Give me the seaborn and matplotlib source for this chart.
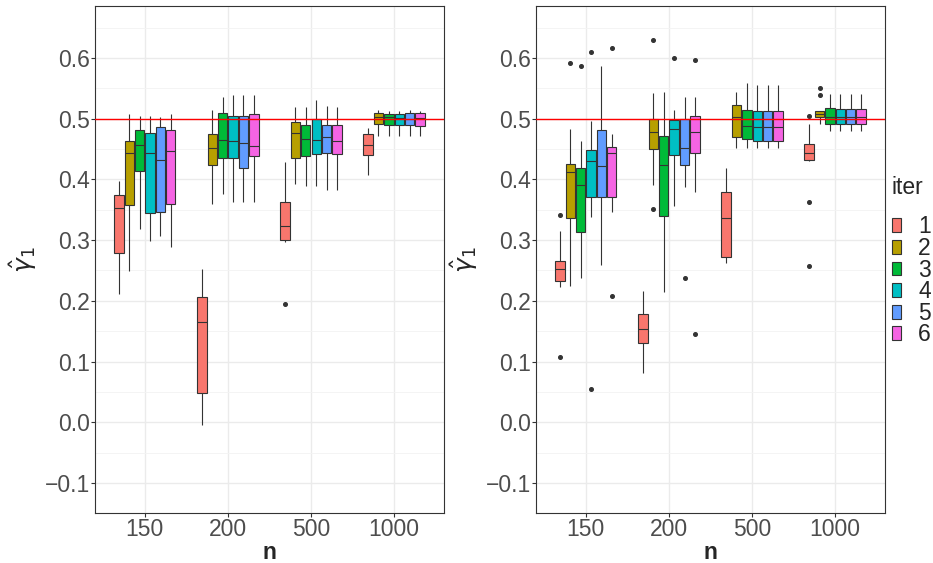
import matplotlib
matplotlib.use("Agg")
import matplotlib.pyplot as plt
import seaborn as sns
import pandas as pd
import numpy as np


# ---------------------------------------------------------
# data (box statistics)
# ---------------------------------------------------------

n_levels = ["150", "200", "500", "1000"]
iters = ["1", "2", "3", "4", "5", "6"]
colors = ["#F8766D", "#B79F00", "#00BA38", "#00BFC4", "#619CFF", "#F564E3"]

# left panel: one row per n, one value per iter
lo_left = [[0.212, 0.249, 0.318, 0.298, 0.307, 0.289],
           [-0.004, 0.360, 0.376, 0.363, 0.363, 0.363],
           [0.297, 0.392, 0.389, 0.389, 0.383, 0.383],
           [0.407, 0.471, 0.471, 0.472, 0.472, 0.472]]
q1_left = [[0.279, 0.358, 0.414, 0.345, 0.346, 0.360],
           [0.048, 0.423, 0.436, 0.435, 0.418, 0.438],
           [0.300, 0.436, 0.439, 0.442, 0.443, 0.442],
           [0.441, 0.491, 0.490, 0.489, 0.489, 0.488]]
med_left = [[0.353, 0.443, 0.457, 0.443, 0.432, 0.446],
            [0.165, 0.452, 0.465, 0.464, 0.460, 0.455],
            [0.323, 0.476, 0.467, 0.465, 0.470, 0.464],
            [0.457, 0.502, 0.502, 0.501, 0.499, 0.501]]
q3_left = [[0.375, 0.463, 0.481, 0.476, 0.487, 0.481],
           [0.207, 0.475, 0.510, 0.505, 0.505, 0.507],
           [0.362, 0.495, 0.490, 0.500, 0.489, 0.489],
           [0.475, 0.509, 0.508, 0.508, 0.509, 0.509]]
hi_left = [[0.397, 0.508, 0.505, 0.505, 0.502, 0.508],
           [0.253, 0.514, 0.536, 0.539, 0.539, 0.539],
           [0.428, 0.520, 0.520, 0.530, 0.521, 0.520],
           [0.484, 0.514, 0.513, 0.513, 0.515, 0.513]]
out_left = [("500", "1", 0.194)]

# right panel
lo_right = [[0.222, 0.224, 0.238, 0.338, 0.259, 0.346],
            [0.081, 0.390, 0.215, 0.357, 0.388, 0.380],
            [0.262, 0.451, 0.452, 0.452, 0.452, 0.452],
            [0.431, 0.491, 0.479, 0.479, 0.479, 0.479]]
q1_right = [[0.232, 0.336, 0.313, 0.371, 0.371, 0.371],
            [0.131, 0.450, 0.340, 0.440, 0.423, 0.444],
            [0.272, 0.470, 0.467, 0.464, 0.464, 0.464],
            [0.432, 0.502, 0.491, 0.491, 0.491, 0.491]]
med_right = [[0.253, 0.412, 0.391, 0.430, 0.422, 0.444],
             [0.154, 0.478, 0.424, 0.483, 0.452, 0.478],
             [0.336, 0.503, 0.488, 0.487, 0.487, 0.487],
             [0.444, 0.507, 0.503, 0.503, 0.503, 0.503]]
q3_right = [[0.266, 0.426, 0.418, 0.449, 0.482, 0.454],
            [0.179, 0.499, 0.472, 0.498, 0.500, 0.505],
            [0.380, 0.523, 0.515, 0.513, 0.513, 0.513],
            [0.459, 0.513, 0.518, 0.516, 0.516, 0.516]]
hi_right = [[0.315, 0.483, 0.464, 0.497, 0.587, 0.475],
            [0.216, 0.542, 0.544, 0.514, 0.536, 0.536],
            [0.418, 0.544, 0.558, 0.555, 0.555, 0.555],
            [0.491, 0.513, 0.540, 0.540, 0.540, 0.540]]
out_right = [("150", "1", 0.341), ("150", "1", 0.108),
             ("150", "2", 0.591), ("150", "3", 0.586),
             ("150", "4", 0.610), ("150", "4", 0.055),
             ("150", "6", 0.617), ("150", "6", 0.208),
             ("200", "2", 0.629), ("200", "2", 0.351),
             ("200", "4", 0.600), ("200", "5", 0.237),
             ("200", "6", 0.597), ("200", "6", 0.146),
             ("1000", "1", 0.505), ("1000", "1", 0.363), ("1000", "1", 0.257),
             ("1000", "2", 0.550), ("1000", "2", 0.539)]

true_value = 0.5


def build_frame(lo, q1, med, q3, hi, outliers):
    # each 5-number summary repeated so quartiles land exactly on it
    rows = []
    for i, n in enumerate(n_levels):
        for j, it in enumerate(iters):
            for v in [lo[i][j], q1[i][j], med[i][j], q3[i][j], hi[i][j]] * 10:
                rows.append((n, it, v))
    rows += list(outliers)
    return pd.DataFrame(rows, columns=["n", "iter", "gamma"])


df_left = build_frame(lo_left, q1_left, med_left, q3_left, hi_left, out_left)
df_right = build_frame(lo_right, q1_right, med_right, q3_right, hi_right, out_right)


# ---------------------------------------------------------
# plot
# ---------------------------------------------------------

sns.set_style("white")
plt.rcParams["font.family"] = ["Liberation Sans", "DejaVu Sans"]

fig = plt.figure(figsize=(9.33, 5.63), dpi=100)
ax1 = fig.add_axes([0.1018, 0.0883, 0.374, 0.901])
ax2 = fig.add_axes([0.5745, 0.0883, 0.374, 0.901])

for ax, df, show_legend in [(ax1, df_left, False), (ax2, df_right, True)]:
    sns.boxplot(data=df, x="n", y="gamma", hue="iter",
                order=n_levels, hue_order=iters, palette=colors, saturation=1,
                width=0.75, gap=0.1, linecolor="#333333", linewidth=0.8,
                showcaps=False,
                flierprops=dict(marker="o", markersize=2.6,
                                markerfacecolor="#333333",
                                markeredgecolor="#333333"),
                legend=show_legend, ax=ax, zorder=3)
    ax.axhline(true_value, color="#FF0000", linewidth=1.0, zorder=4)

    ax.set_xlim(-0.6, 3.6)
    ax.set_ylim(-0.1366, 0.6856)
    ax.set_yticks(np.arange(-0.1, 0.61, 0.1))
    ax.set_yticks(np.arange(-0.15, 0.70, 0.1), minor=True)
    ax.set_yticklabels(["\u22120.1", "0.0", "0.1", "0.2", "0.3", "0.4", "0.5", "0.6"])
    ax.grid(which="major", color="#EBEBEB", linewidth=1.0, zorder=0)
    ax.grid(which="minor", axis="y", color="#F3F3F3", linewidth=0.6, zorder=0)
    ax.set_axisbelow(True)

    for sp in ax.spines.values():
        sp.set_visible(True)
        sp.set_color("#333333")
        sp.set_linewidth(0.8)
    ax.tick_params(axis="both", which="major", length=3, width=0.8,
                   color="#333333", labelsize=16.5, labelcolor="#4D4D4D",
                   pad=0.5, left=True, bottom=True)
    ax.tick_params(which="minor", length=0)

    ax.set_xlabel("n", fontsize=16.5, fontweight="bold", labelpad=0)
    ax.set_ylabel(r"$\hat{\gamma}_1$", fontsize=18, labelpad=4)

# legend placed in figure coordinates, right of the second panel
handles, labels = ax2.get_legend_handles_labels()
ax2.get_legend().remove()
leg = fig.legend(handles, labels, loc="upper left", bbox_to_anchor=(0.956, 0.688),
                 frameon=False, title="iter", fontsize=16.5, title_fontsize=16.5,
                 handlelength=0.4, handleheight=0.55, handletextpad=0.75,
                 labelspacing=-0.06, borderpad=0, borderaxespad=0, alignment="left")
leg._legend_box.sep = 12

fig.savefig("out.png", dpi=100)
